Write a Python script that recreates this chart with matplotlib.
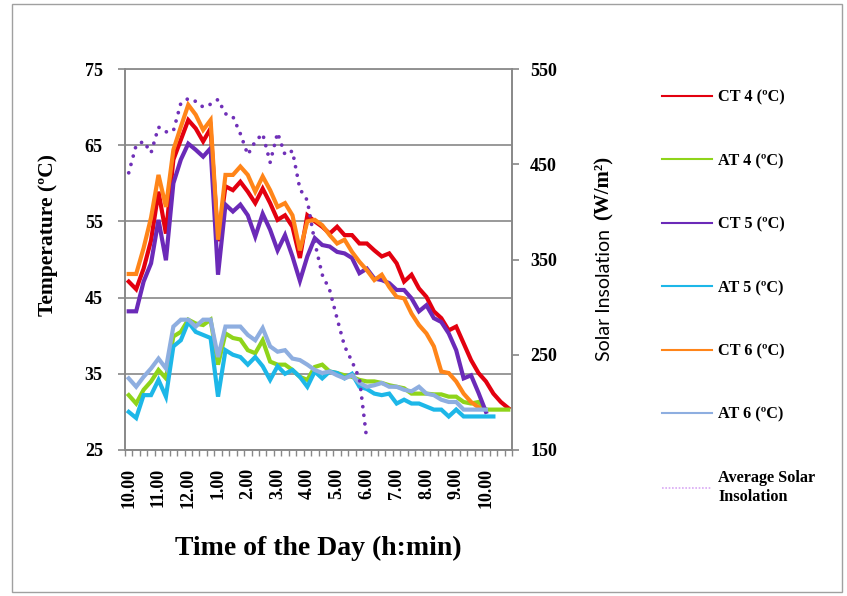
import numpy as np
import matplotlib
matplotlib.use('Agg')
import matplotlib.pyplot as plt
from matplotlib.patches import Rectangle

# readings every 15 min from 10.00 to 22.45
hour_labels = ['10.00', '11.00', '12.00', '1.00', '2.00', '3.00', '4.00',
               '5.00', '6.00', '7.00', '8.00', '9.00', '10.00']

ct4 = [47.1, 46.1, 48.8, 52.5, 58.9, 53.4, 63.1, 65.7, 68.3, 67.2, 65.5, 67.2, 52.4,
       59.6, 59.1, 60.2, 58.9, 57.4, 59.3, 57.4, 55.2, 55.8, 54.3, 50.2, 55.8, 55.0,
       54.3, 53.4, 54.3, 53.2, 53.2, 52.1, 52.1, 51.2, 50.4, 50.8, 49.5, 47.1, 48.0,
       46.2, 45.1, 43.2, 42.3, 40.7, 41.2, 39.0, 36.8, 35.1, 34.0, 32.4, 31.3, 30.5]
at4 = [32.2, 31.1, 32.9, 34.0, 35.5, 34.4, 39.9, 40.5, 42.1, 41.6, 41.4, 42.1, 36.2,
       40.3, 39.7, 39.5, 38.1, 37.7, 39.4, 36.6, 36.2, 36.2, 35.5, 34.6, 34.2, 35.9,
       36.2, 35.3, 35.1, 34.8, 34.6, 34.2, 34.0, 34.0, 33.8, 33.5, 33.3, 33.1, 32.4,
       32.4, 32.4, 32.3, 32.3, 32.0, 32.0, 31.3, 31.1, 31.3, 30.3, 30.3, 30.3, 30.3]
ct5 = [43.2, 43.2, 47.1, 49.5, 55.2, 49.9, 60.0, 63.1, 65.2, 64.4, 63.5, 64.6, 48.0,
       57.2, 56.3, 57.2, 55.8, 53.0, 56.0, 53.9, 51.2, 53.2, 50.4, 47.2, 50.4, 52.8,
       51.9, 51.7, 51.0, 50.8, 50.2, 48.2, 48.8, 47.5, 47.3, 46.9, 46.0, 46.0, 44.9,
       43.2, 44.0, 42.3, 41.8, 40.3, 38.1, 34.4, 34.8, 32.5, 30.0]
at5 = [30.0, 29.2, 32.2, 32.2, 34.2, 32.0, 38.6, 39.4, 41.8, 40.5, 40.1, 39.7, 32.0,
       38.1, 37.5, 37.2, 36.2, 37.2, 36.0, 34.2, 36.0, 35.0, 35.5, 34.6, 33.3, 35.3,
       34.4, 35.3, 35.1, 34.4, 35.0, 33.3, 33.0, 32.4, 32.2, 32.4, 31.1, 31.6, 31.1,
       31.1, 30.7, 30.3, 30.3, 29.4, 30.3, 29.4, 29.4, 29.4, 29.4, 29.4]
ct6 = [48.1, 48.1, 51.5, 55.5, 61.1, 56.9, 64.4, 67.4, 70.3, 69.0, 67.0, 68.3, 52.6,
       61.1, 61.1, 62.2, 61.1, 58.9, 60.9, 59.1, 56.9, 57.4, 55.8, 51.2, 55.0, 55.2,
       54.5, 53.2, 52.1, 52.6, 51.0, 49.7, 48.6, 47.3, 48.0, 46.4, 45.1, 44.9, 42.9,
       41.4, 40.3, 38.6, 35.3, 35.1, 34.0, 32.4, 31.3, 30.6]
at6 = [34.4, 33.3, 34.6, 35.7, 37.0, 35.7, 41.2, 42.1, 42.1, 41.2, 42.1, 42.1, 37.2,
       41.2, 41.2, 41.2, 40.1, 39.4, 41.0, 38.6, 37.9, 38.1, 37.0, 36.8, 36.2, 35.5,
       35.1, 35.3, 34.8, 34.4, 34.8, 33.8, 33.3, 33.5, 33.8, 33.3, 33.3, 32.9, 32.7,
       33.3, 32.4, 32.2, 31.6, 31.3, 31.3, 30.3, 30.3, 30.3, 30.3]
solar = [441, 470, 474, 462, 489, 484, 485, 514, 519, 516, 510, 513, 518, 503, 500,
         482, 460, 474, 482, 452, 483, 460, 464, 424, 412, 368, 334, 318, 288, 259,
         243, 225, 160]

n_cat = 52
W, H = 847, 596

fig = plt.figure(figsize=(W / 100, H / 100), dpi=100)
fig.patches.append(Rectangle((12 / W, 4 / H), 830 / W, 588 / H, transform=fig.transFigure,
                             fill=False, edgecolor='#a0a0a0', linewidth=1))

ax = fig.add_axes([125 / W, 1 - 450 / H, 387 / W, 381 / H])
ax2 = ax.twinx()

serif = 'Liberation Serif'
series = [(ct4, '#e3000f', 'CT 4 (ºC)'), (at4, '#8fd41a', 'AT 4 (ºC)'),
          (ct5, '#6b2ab8', 'CT 5 (ºC)'), (at5, '#1db7e8', 'AT 5 (ºC)'),
          (ct6, '#ff8519', 'CT 6 (ºC)'), (at6, '#8eaee0', 'AT 6 (ºC)')]
handles = []
for vals, col, lab in series:
    ax.plot(np.arange(len(vals)), vals, color=col, lw=3.0, solid_joinstyle='miter')
    handles.append(plt.Line2D([], [], color=col, lw=1.5, label=lab))

ax2.plot(np.arange(len(solar)), solar, color='#7030b8', lw=2.7,
         linestyle=(0, (0.01, 2.3)), dash_capstyle='round')
handles.append(plt.Line2D([], [], color='#d9a8f5', lw=1.2, linestyle=(0, (1, 1)),
                          label='Average Solar\nInsolation'))

ax.set_xlim(-0.5, n_cat - 0.5)
ax.set_ylim(25, 75)
ax2.set_ylim(150, 550)
ax.set_yticks(np.arange(25, 76, 10))
ax2.set_yticks(np.arange(150, 551, 100))
ax.yaxis.grid(True, color='#888888', lw=1.2)
ax.set_axisbelow(True)

ax.set_xticks(np.arange(0, 49, 4))
ax.set_xticklabels(hour_labels, rotation=90, fontfamily=serif, fontweight='bold', fontsize=13)
ax.set_xticks(np.arange(-0.5, n_cat, 1), minor=True)
ax.tick_params(axis='x', which='major', length=0, pad=13)
ax.tick_params(axis='x', which='minor', length=4, color='#888888', width=1)

for a in (ax, ax2):
    for s in a.spines.values():
        s.set_color('#888888')
        s.set_linewidth(1.2)
ax.spines['top'].set_color('#c8c8c8')
ax.tick_params(axis='y', length=5, color='#888888', width=1.2, pad=11)
ax2.tick_params(axis='y', length=5, color='#888888', width=1.2, pad=8)
for lab in ax.get_yticklabels() + ax2.get_yticklabels():
    lab.set_fontfamily(serif)
    lab.set_fontweight('bold')
    lab.set_fontsize(13)

fig.text(48 / W, 1 - 235 / H, 'Temperature (ºC)', rotation=90, ha='center', va='center',
         fontfamily=serif, fontweight='bold', fontsize=15.5)
fig.text(604 / W, 1 - 295 / H, 'Solar Insolation', rotation=90, ha='center', va='center',
         fontfamily='Lato', fontsize=14)
fig.text(604 / W, 1 - 188 / H, '(W/m²)', rotation=90, ha='center', va='center',
         fontfamily=serif, fontweight='bold', fontsize=15)
fig.text(318 / W, 1 - 548 / H, 'Time of the Day (h:min)', ha='center', va='center',
         fontfamily=serif, fontweight='bold', fontsize=20)

fig.legend(handles=handles, loc='upper left', bbox_to_anchor=(647 / W, 1 - 75 / H),
           frameon=False, handlelength=3.1, handletextpad=0.37, labelspacing=2.92,
           prop={'family': serif, 'weight': 'bold', 'size': 11.7})

fig.savefig('out.png', dpi=100)
